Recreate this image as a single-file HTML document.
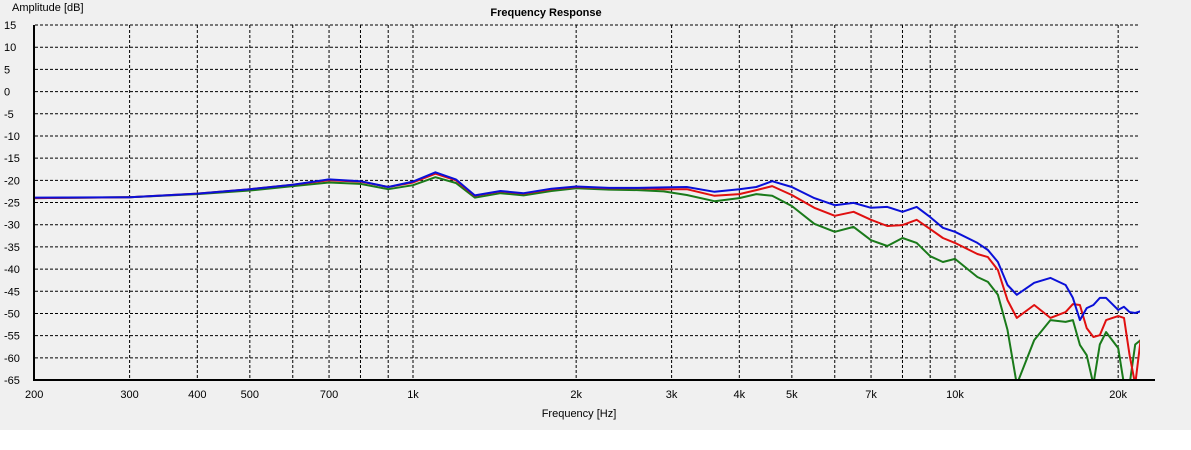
<!DOCTYPE html>
<html><head><meta charset="utf-8"><style>
html,body{margin:0;padding:0;background:#fff}
svg{display:block;font-family:"Liberation Sans",sans-serif}
</style></head><body>
<svg width="1191" height="450">
<rect x="0" y="0" width="1191" height="430" fill="#f0f0f0"/>
<text x="546" y="16" font-size="11" font-weight="bold" text-anchor="middle">Frequency Response</text>
<text x="12" y="11" font-size="11">Amplitude [dB]</text>
<text x="579" y="417" font-size="11" text-anchor="middle">Frequency [Hz]</text>
<g id="grid"></g><g id="ticks"></g>
<defs><clipPath id="pc"><rect x="35" y="20" width="1105" height="361"/></clipPath></defs>
<g id="series" clip-path="url(#pc)"></g>
<line x1="34" y1="25" x2="34" y2="381" stroke="#000" stroke-width="2"/>
<line x1="34" y1="380" x2="1155" y2="380" stroke="#000" stroke-width="2"/>
</svg>
<script>
const yTicks=[15,10,5,0,-5,-10,-15,-20,-25,-30,-35,-40,-45,-50,-55,-60,-65];
const xGrid=[200,300,400,500,600,700,800,900,1000,2000,3000,4000,5000,6000,7000,8000,9000,10000,20000];
const xLabels=[[200,"200"],[300,"300"],[400,"400"],[500,"500"],[700,"700"],[1000,"1k"],[2000,"2k"],[3000,"3k"],[4000,"4k"],[5000,"5k"],[7000,"7k"],[10000,"10k"],[20000,"20k"]];
const freqs=[200,300,400,500,600,700,800,900,1000,1100,1200,1300,1450,1600,1800,2000,2300,2600,2900,3200,3600,4000,4300,4600,5000,5500,6000,6500,7000,7500,8000,8500,9000,9500,10000,11000,11500,12000,12500,13000,14000,15000,16000,16500,17000,17500,18000,18500,19000,20000,20500,21000,21500,22000];
const common=[-24,-23.8,-23,-22,-21,-20,-20.3,-21.5,-20.5,-18.5,-20,-23.5,-22.5,-23,-22,-21.5,-21.8,-21.8];
const blueTail=[-21.6,-21.5,-22.6,-22,-21.5,-20.2,-21.5,-24,-25.6,-25.1,-26.2,-26,-27.1,-26,-28.3,-30.7,-31.6,-34.1,-35.7,-38.4,-43.6,-45.8,-43.1,-42,-43.6,-46.5,-51.5,-48.8,-48.1,-46.5,-46.5,-49.2,-48.5,-49.7,-49.9,-49.5];
const redTail=[-22,-22,-23.5,-23.1,-22.2,-21.3,-23.3,-26.2,-28,-27.1,-28.9,-30.3,-30.1,-28.9,-31,-33,-34.1,-36.6,-37.3,-40.2,-47,-51,-48.1,-51,-49.7,-47.9,-48.1,-53.3,-55.3,-54.9,-51.5,-50.6,-51,-59.4,-66,-56];
const greenTail=[-22.5,-23.3,-24.7,-24,-23.1,-23.5,-25.8,-29.8,-31.6,-30.5,-33.5,-34.8,-33,-34.1,-37.1,-38.4,-37.7,-41.8,-42.9,-45.8,-53.7,-66,-56,-51.5,-51.9,-51.5,-57.1,-59.4,-66,-57,-54.2,-57.8,-66,-66,-57,-56];
const blueOffset=[0.1,0,0,0,0,0.2,0.1,0,0.2,0.3,0.2,0.1,0.1,0.1,0.1,0.1,0.1,0.1];
const greenOffset=[0,0,-0.1,-0.3,-0.3,-0.5,-0.5,-0.5,-0.6,-0.8,-0.6,-0.4,-0.4,-0.4,-0.4,-0.3,-0.3,-0.4];
const blue=common.map((v,i)=>v+blueOffset[i]).concat(blueTail);
const red=common.concat(redTail);
const green=common.map((v,i)=>v+greenOffset[i]).concat(greenTail);
const X=f=>413+542*Math.log10(f/1000);
const Y=d=>25+(15-d)*4.4375;
const NS="http://www.w3.org/2000/svg";
const svg=document.querySelector('svg');
const grid=document.getElementById('grid'),ticks=document.getElementById('ticks'),ser=document.getElementById('series');
function mk(tag,a,p){const e=document.createElementNS(NS,tag);for(const k in a)e.setAttribute(k,a[k]);p.appendChild(e);return e;}
yTicks.forEach(v=>{
  if(v>-65){const l=mk('line',{x1:35,x2:1140,y1:Y(v),y2:Y(v),stroke:'#000','stroke-width':1,'stroke-dasharray':'3,2'},grid);
  
  }
  const t=mk('text',{x:4,y:Y(v)+4,'font-size':11},ticks);t.textContent=v;
  
  
});
xGrid.forEach(f=>{
  if(f>200){const l=mk('line',{x1:X(f),x2:X(f),y1:25,y2:380,stroke:'#000','stroke-width':1,'stroke-dasharray':'3,2'},grid);
  
  }
});
xLabels.forEach(([f,s])=>{
  const t=mk('text',{x:X(f),y:398,'font-size':11,'text-anchor':'middle'},ticks);t.textContent=s;
  
  
});
[[green,'#1a7a1a','series-green'],[red,'#e01010','series-red'],[blue,'#0a10d8','series-blue']].forEach(([d,c,n])=>{
  const p=mk('polyline',{points:freqs.map((f,i)=>X(f).toFixed(1)+','+Y(d[i]).toFixed(1)).join(' '),fill:'none',stroke:c,'stroke-width':2,'stroke-linejoin':'round'},ser);
  
  
});
</script>
</body></html>
